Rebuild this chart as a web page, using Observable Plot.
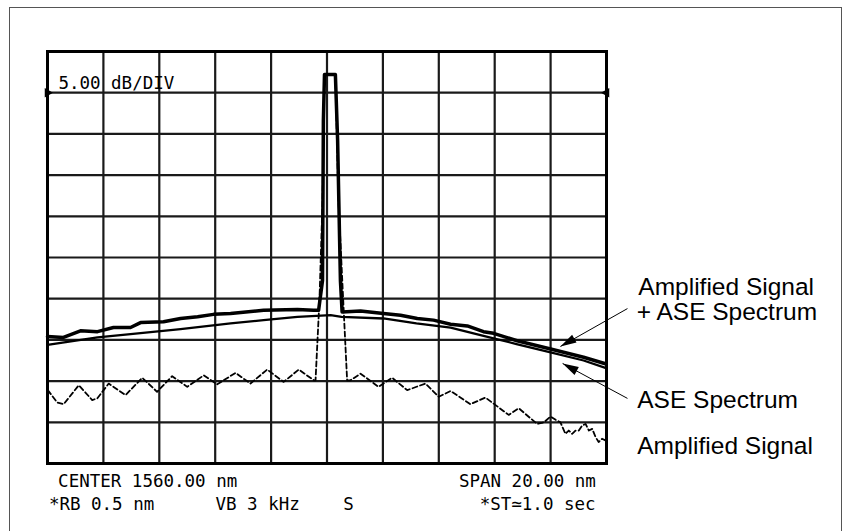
<!DOCTYPE html>
<html><head><meta charset="utf-8">
<script src="https://cdn.jsdelivr.net/npm/d3@7"></script>
<script src="https://cdn.jsdelivr.net/npm/@observablehq/plot@0.6"></script>
<style>
body{margin:0;background:#fff;}
#wrap{position:relative;width:850px;height:531px;overflow:hidden;background:#fff;}
#box{position:absolute;left:9px;top:7px;width:831px;height:600px;border:1px solid #555;}
#chart{position:absolute;left:0;top:0;}
</style></head><body>
<div id="wrap"><div id="box"></div><div id="chart"></div></div>
<script>
// Wavelength (nm) and level (dB, relative to top graticule line) for each trace
const sigAseNm = [1550.00,1550.57,1551.18,1551.79,1552.36,1552.97,1553.33,1554.15,1554.76,1555.37,1555.94,1556.55,1557.73,1558.94,1559.52,1559.70,1559.84,1559.87,1559.91,1560.30,1560.38,1560.48,1560.54,1561.20,1562.02,1562.63,1563.23,1563.81,1564.42,1565.02,1565.60,1565.96,1566.80,1568.00,1569.18,1569.96];
const sigAseDb = [-34.6,-34.7,-33.9,-34.0,-33.5,-33.5,-32.9,-32.8,-32.4,-32.2,-31.9,-31.8,-31.4,-31.3,-31.4,-31.4,-27.8,-8.4,-2.8,-2.8,-10.8,-27.8,-31.6,-31.5,-31.8,-32.0,-32.4,-32.6,-33.1,-33.3,-34.0,-34.2,-35.1,-36.1,-37.1,-37.9];

const aseNm = [1550.00,1551.79,1552.97,1554.76,1556.55,1557.73,1558.94,1560.13,1560.52,1562.02,1563.20,1564.42,1565.60,1566.78,1568.00,1569.18,1569.96];
const aseDb = [-35.6,-34.7,-34.3,-33.7,-33.0,-32.6,-32.2,-32.0,-32.2,-32.4,-33.0,-33.5,-34.5,-35.5,-36.5,-37.5,-38.4];

const sigNm = [1550.01,1550.35,1550.58,1551.12,1551.60,1551.78,1552.19,1552.79,1553.39,1553.92,1554.46,1555.00,1555.59,1556.07,1556.73,1557.26,1557.86,1558.45,1558.99,1559.53,1559.59,1559.73,1559.84,1559.91,1560.30,1560.41,1560.58,1560.72,1560.84,1561.20,1561.84,1562.33,1562.87,1563.52,1564.00,1564.42,1565.13,1565.67,1566.50,1566.86,1567.52,1567.76,1568.00,1568.18,1568.35,1568.53,1568.65,1568.77,1568.89,1569.01,1569.13,1569.25,1569.37,1569.49,1569.61,1569.72,1569.84,1569.96];
const sigDb = [-41.1,-42.6,-42.8,-40.5,-42.3,-42.1,-40.3,-41.7,-39.6,-41.3,-39.4,-40.7,-39.3,-40.4,-39.0,-40.3,-38.6,-40.1,-38.6,-39.9,-39.9,-30.2,-18.1,-2.8,-2.8,-18.1,-30.2,-39.9,-39.9,-39.1,-40.7,-39.6,-41.1,-40.3,-41.9,-41.2,-42.8,-42.0,-44.1,-43.3,-45.2,-45.0,-44.3,-44.7,-45.0,-46.4,-46.0,-46.4,-46.0,-46.0,-45.4,-45.2,-46.0,-45.8,-46.8,-47.4,-47.0,-47.2];

// Instrument annotation texts
const instText = ["5.00 dB/DIV","CENTER 1560.00 nm","SPAN 20.00 nm","*RB 0.5 nm","VB 3 kHz","S","*ST\u22431.0 sec"];
const instX = [1550.39,1550.38,1569.62,1550.05,1556.01,1560.58,1569.61];
const instY = [-4.5,-52.8,-52.8,-55.6,-55.6,-55.6,-55.6];
const instAnchor = ["start","start","end","start","start","start","end"];

// Trace labels
const labelText = ["Amplified Signal","+ ASE Spectrum","ASE Spectrum","Amplified Signal"];
const labelX = [1571.14,1571.08,1571.10,1571.10];
const labelY = [-29.5,-32.55,-43.25,-48.9];

// Pointer arrows (label -> trace)
const arrowX1 = [1570.75,1570.75];
const arrowY1 = [-31.2,-42.1];
const arrowX2 = [1568.35,1568.43];
const arrowY2 = [-35.8,-37.86];

// Reference level markers
const refX = [1550,1570];
const refY = [-5,-5];
const refRot = [90,-90];

const toRows = (xs, ys) => xs.map((x, i) => ({x, y: ys[i]}));
const sigAse = toRows(sigAseNm, sigAseDb);
const ase = toRows(aseNm, aseDb);
const sig = toRows(sigNm, sigDb);
const inst = instText.map((t, i) => ({t, x: instX[i], y: instY[i], a: instAnchor[i]}));
const labels = labelText.map((t, i) => ({t, x: labelX[i], y: labelY[i]}));
const arrows = arrowX1.map((x1, i) => ({x1, y1: arrowY1[i], x2: arrowX2[i], y2: arrowY2[i]}));
const refs = refX.map((x, i) => ({x, y: refY[i], r: refRot[i]}));

const mono = "DejaVu Sans Mono";
const sans = "Liberation Sans, Arial, Helvetica, sans-serif";

const plot = Plot.plot({
  width: 850,
  height: 531,
  marginLeft: 47,
  marginRight: 244,
  marginTop: 51,
  marginBottom: 68,
  x: {domain: [1550, 1570], axis: null},
  y: {domain: [-50, 0], axis: null},
  style: {background: "transparent", overflow: "visible"},
  marks: [
    Plot.gridX(d3.range(1552, 1570, 2), {stroke: "#1a1a1a", strokeOpacity: 1, strokeWidth: 2.2}),
    Plot.gridY(d3.range(-45, 0, 5), {stroke: "#1a1a1a", strokeOpacity: 1, strokeWidth: 2.2}),
    Plot.frame({stroke: "#000", strokeWidth: 3}),
    Plot.line(sig, {x: "x", y: "y", stroke: "#000", strokeWidth: 1.8, strokeDasharray: "5,3"}),
    Plot.line(ase, {x: "x", y: "y", stroke: "#000", strokeWidth: 2.3}),
    Plot.line(sigAse, {x: "x", y: "y", stroke: "#000", strokeWidth: 3.5}),
    Plot.dot(refs, {x: "x", y: "y", symbol: "triangle", r: 3.5, fill: "#000", stroke: "none", rotate: "r"}),
    Plot.text(inst.filter(d => d.a === "start"), {x: "x", y: "y", text: "t", textAnchor: "start", lineAnchor: "bottom", fontFamily: mono, fontSize: 17.5, fill: "#000"}),
    Plot.text(inst.filter(d => d.a === "end"), {x: "x", y: "y", text: "t", textAnchor: "end", lineAnchor: "bottom", fontFamily: mono, fontSize: 17.5, fill: "#000"}),
    Plot.text(labels, {x: "x", y: "y", text: "t", textAnchor: "start", lineAnchor: "bottom", fontFamily: sans, fontSize: 24.5, fill: "#000"}),
    Plot.link(arrows, {x1: "x1", y1: "y1", x2: "x2", y2: "y2", stroke: "#000", strokeWidth: 1, markerEnd: "arrow"})
  ]
});

// Make the pointer arrowheads filled triangles, as in the reference
plot.querySelectorAll("marker").forEach(m => {
  m.setAttribute("viewBox", "-18 -6 20 12");
  m.setAttribute("markerWidth", 20);
  m.setAttribute("markerHeight", 12);
  m.setAttribute("fill", "#000");
  m.setAttribute("stroke", "none");
  const p = m.querySelector("path");
  if (p) p.setAttribute("d", "M-16,-4.5L0,0L-16,4.5Z");
});

document.getElementById("chart").appendChild(plot);
</script>
</body></html>
